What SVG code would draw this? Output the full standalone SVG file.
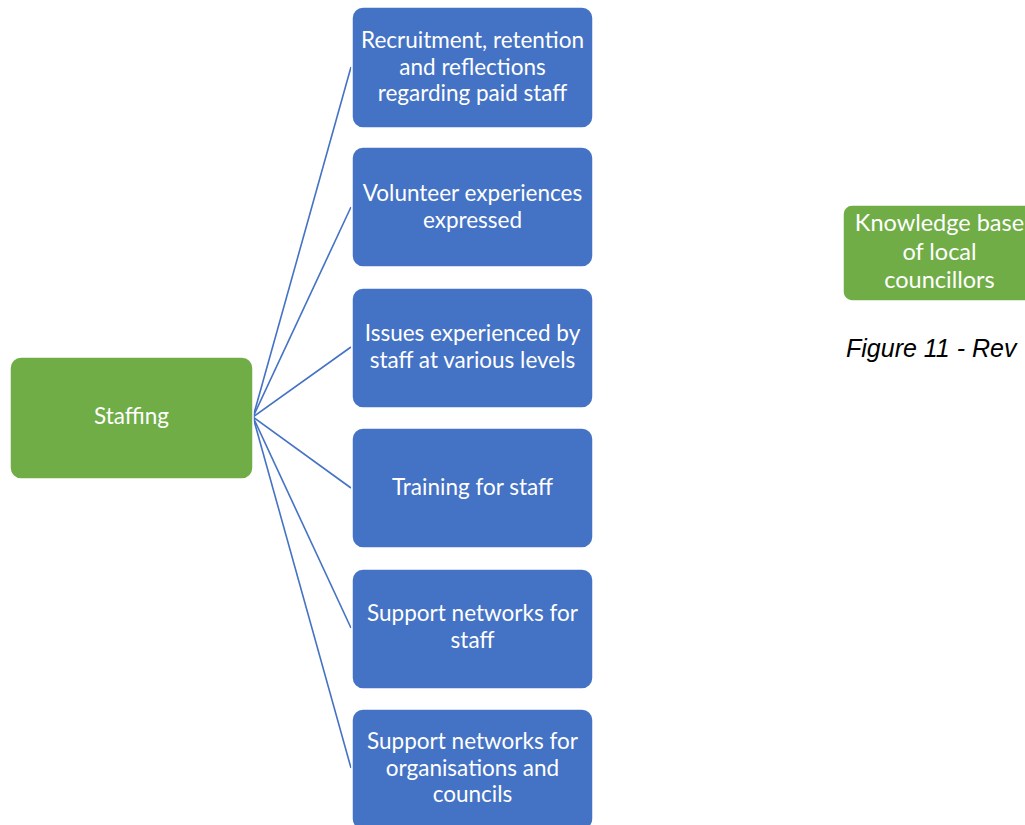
<svg xmlns="http://www.w3.org/2000/svg" width="1025" height="825" viewBox="0 0 1025 825">
  <style>
    .blue { fill: #4472C4; stroke: #ffffff; stroke-width: 1.5; }
    .green { fill: #70AD47; stroke: #ffffff; stroke-width: 1.5; }
    .lbl { font-family: Lato, "Open Sans", sans-serif; font-size: 22.5px; fill: #ffffff; text-anchor: middle; }
    .lbl-lg { font-size: 23.5px; }
    .conn line { stroke: #4472C4; stroke-width: 1.6; }
    .cap { font-family: "Liberation Sans", Arial, sans-serif; font-size: 25px; font-style: italic; fill: #000000; }
  </style>
  <rect width="1025" height="825" fill="#ffffff"/>

  <!-- connectors from the root to each branch -->
  <g id="connectors" class="conn">
    <line x1="253" y1="417" x2="351" y2="67"/>
    <line x1="253" y1="417" x2="351" y2="207"/>
    <line x1="253" y1="417" x2="351" y2="347"/>
    <line x1="253" y1="417" x2="351" y2="488"/>
    <line x1="253" y1="417" x2="351" y2="628"/>
    <line x1="253" y1="417" x2="351" y2="768"/>
  </g>

  <g id="staffing">
    <rect class="green" x="10" y="357" width="243" height="122" rx="11"/>
    <text class="lbl" x="131.5" y="424">Staffing</text>
  </g>

  <g id="recruitment">
    <rect class="blue" x="352" y="7" width="241" height="121" rx="11"/>
    <text class="lbl" x="472.5" y="48">Recruitment, retention</text>
    <text class="lbl" x="472.5" y="74.5">and reflections</text>
    <text class="lbl" x="472.5" y="101">regarding paid staff</text>
  </g>

  <g id="volunteer">
    <rect class="blue" x="352" y="147" width="241" height="120" rx="11"/>
    <text class="lbl" x="472.5" y="201">Volunteer experiences</text>
    <text class="lbl" x="472.5" y="227.5">expressed</text>
  </g>

  <g id="issues">
    <rect class="blue" x="352" y="288" width="241" height="120" rx="11"/>
    <text class="lbl" x="472.5" y="341">Issues experienced by</text>
    <text class="lbl" x="472.5" y="367.5">staff at various levels</text>
  </g>

  <g id="training">
    <rect class="blue" x="352" y="428" width="241" height="120" rx="11"/>
    <text class="lbl" x="472.5" y="495">Training for staff</text>
  </g>

  <g id="support-staff">
    <rect class="blue" x="352" y="569" width="241" height="120" rx="11"/>
    <text class="lbl" x="472.5" y="621">Support networks for</text>
    <text class="lbl" x="472.5" y="647.5">staff</text>
  </g>

  <g id="support-orgs">
    <rect class="blue" x="352" y="709" width="241" height="121" rx="11"/>
    <text class="lbl" x="472.5" y="749">Support networks for</text>
    <text class="lbl" x="472.5" y="775.5">organisations and</text>
    <text class="lbl" x="472.5" y="802">councils</text>
  </g>

  <g id="knowledge">
    <rect class="green" x="843" y="205" width="194" height="96" rx="9"/>
    <text class="lbl lbl-lg" x="939.5" y="231">Knowledge base</text>
    <text class="lbl lbl-lg" x="939.5" y="259.5">of local</text>
    <text class="lbl lbl-lg" x="939.5" y="288">councillors</text>
  </g>

  <text class="cap" x="846" y="357">Figure 11 - Rev</text>
</svg>
